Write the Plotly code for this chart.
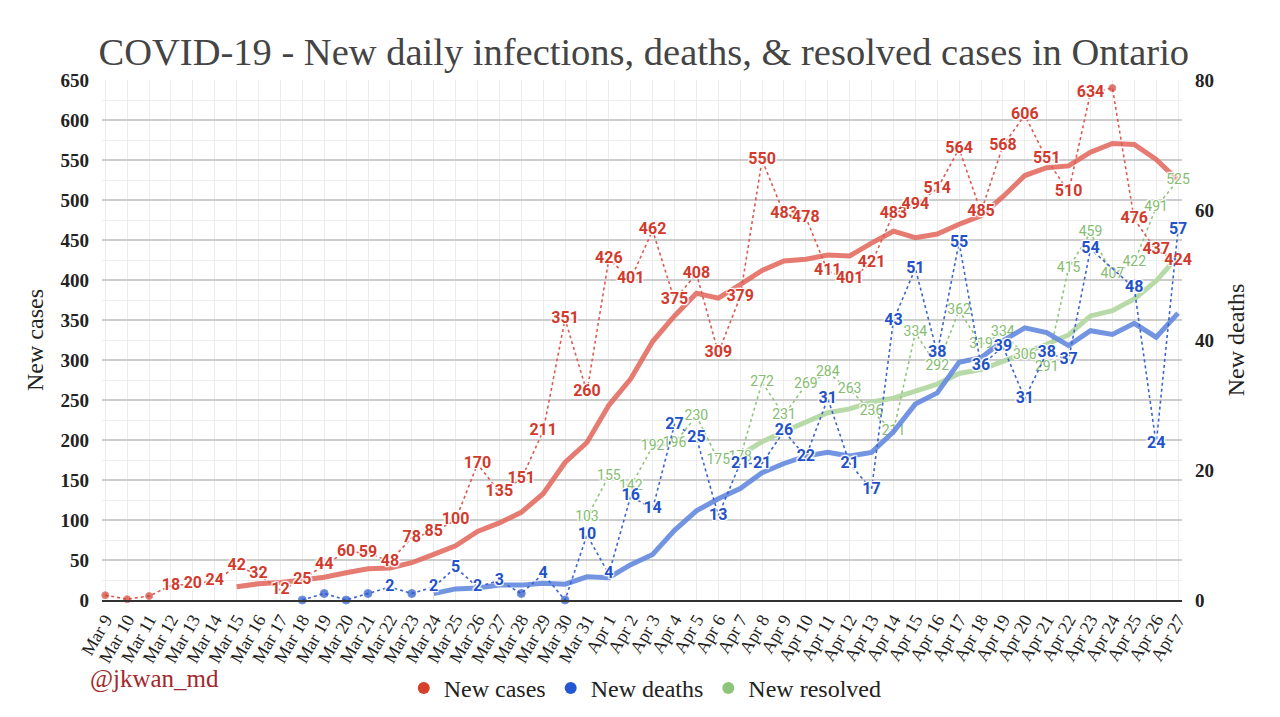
import plotly.graph_objects as go

# ---------------- data ----------------
dates = ["Mar 9", "Mar 10", "Mar 11", "Mar 12", "Mar 13", "Mar 14", "Mar 15", "Mar 16",
         "Mar 17", "Mar 18", "Mar 19", "Mar 20", "Mar 21", "Mar 22", "Mar 23", "Mar 24",
         "Mar 25", "Mar 26", "Mar 27", "Mar 28", "Mar 29", "Mar 30", "Mar 31",
         "Apr 1", "Apr 2", "Apr 3", "Apr 4", "Apr 5", "Apr 6", "Apr 7", "Apr 8", "Apr 9",
         "Apr 10", "Apr 11", "Apr 12", "Apr 13", "Apr 14", "Apr 15", "Apr 16", "Apr 17",
         "Apr 18", "Apr 19", "Apr 20", "Apr 21", "Apr 22", "Apr 23", "Apr 24", "Apr 25",
         "Apr 26", "Apr 27"]

new_cases = [6, 1, 5, 18, 20, 24, 42, 32, 12, 25, 44, 60, 59, 48, 78, 85, 100, 170, 135,
             151, 211, 351, 260, 426, 401, 462, 375, 408, 309, 379, 550, 483, 478, 411,
             401, 421, 483, 494, 514, 564, 485, 568, 606, 551, 510, 634, 640, 476, 437, 424]

# deaths start Mar 18
death_dates = dates[9:]
new_deaths = [0, 1, 0, 1, 2, 1, 2, 5, 2, 3, 1, 4, 0, 10, 4, 16, 14, 27, 25, 13, 21, 21,
              26, 22, 31, 21, 17, 43, 51, 38, 55, 36, 39, 31, 38, 37, 54, 51, 48, 24, 57]

# resolved start Mar 31
resolved_dates = dates[22:]
new_resolved = [103, 155, 142, 192, 196, 230, 175, 178, 272, 231, 269, 284, 263, 236, 211,
                334, 292, 362, 319, 334, 306, 291, 415, 459, 407, 422, 491, 525]

# 7-day trend lines as drawn
cases_avg_dates = dates[6:]
cases_avg = [16.6, 20.3, 21.9, 24.7, 28.4, 34.1, 39.1, 40.0, 46.6, 57.0, 67.7, 85.7, 96.4,
             109.6, 132.9, 171.9, 196.9, 243.4, 276.4, 323.1, 355.1, 383.3, 377.3, 394.3,
             412.0, 423.7, 426.0, 431.1, 430.1, 446.1, 461.0, 453.0, 457.4, 469.7, 480.3,
             504.1, 530.6, 540.3, 542.6, 559.7, 570.6, 569.3, 550.6, 524.6]

deaths_avg_dates = dates[15:]
deaths_avg = [1.0, 1.71, 1.86, 2.29, 2.29, 2.57, 2.43, 3.57, 3.43, 5.43, 7.0, 10.71, 13.71,
              15.57, 17.14, 19.57, 21.0, 22.14, 22.71, 22.14, 22.71, 25.86, 30.14, 31.86,
              36.57, 37.29, 39.86, 41.86, 41.14, 39.14, 41.43, 40.86, 42.57, 40.43, 44.14]

resolved_avg_dates = dates[29:]
resolved_avg = [181.1, 197.9, 210.6, 221.6, 234.1, 238.9, 247.6, 252.3, 261.1, 269.9, 283.1,
                288.1, 298.3, 308.3, 319.7, 331.3, 355.1, 361.6, 376.3, 398.7, 430.0]

# points drawn as a dot instead of a number
cases_unlabeled = ["Mar 9", "Mar 10", "Mar 11", "Apr 24"]
deaths_unlabeled = ["Mar 18", "Mar 19", "Mar 20", "Mar 21", "Mar 23", "Mar 28", "Mar 30"]
deaths_hidden = ["Apr 24"]

left_ticks = list(range(0, 651, 50))
right_ticks = [0, 20, 40, 60, 80]

# ---------------- styles ----------------
RED_T, RED_L, RED_AVG = "#d13a2c", "#dc5a50", "rgba(226,105,95,0.88)"
BLUE_T, BLUE_L, BLUE_AVG = "#2352c8", "#3b64d0", "rgba(100,138,222,0.9)"
GREEN_T, GREEN_L, GREEN_AVG = "#86bd72", "#93c47d", "rgba(180,216,164,0.95)"
SERIF = "Liberation Serif"
HALO = "white 1px 1px 1px, white -1px -1px 1px, white 1px -1px 1px, white -1px 1px 1px, white 0px 0px 3px"

fig = go.Figure()

# trend lines
fig.add_trace(go.Scatter(x=resolved_avg_dates, y=resolved_avg, mode="lines",
                         line=dict(color=GREEN_AVG, width=5), showlegend=False, hoverinfo="skip"))
fig.add_trace(go.Scatter(x=cases_avg_dates, y=cases_avg, mode="lines",
                         line=dict(color=RED_AVG, width=5), showlegend=False, hoverinfo="skip"))

# resolved (dotted + labels)
fig.add_trace(go.Scatter(
    x=resolved_dates, y=new_resolved, mode="lines+text", cliponaxis=False,
    text=[str(v) for v in new_resolved], textposition="middle center",
    textfont=dict(family="Roboto", size=14, color=GREEN_T, shadow=HALO),
    line=dict(color=GREEN_L, width=1.6, dash="dot"), showlegend=False))

# cases (dotted + labels)
fig.add_trace(go.Scatter(
    x=dates, y=new_cases, mode="lines+markers+text", cliponaxis=False,
    text=["" if d in cases_unlabeled else str(v) for d, v in zip(dates, new_cases)],
    textposition="middle center",
    textfont=dict(family="Roboto", size=16, color=RED_T, weight="bold", shadow=HALO),
    marker=dict(color=RED_T, size=[7 if d in cases_unlabeled else 0 for d in dates]),
    line=dict(color=RED_L, width=1.6, dash="dot"), showlegend=False))

# deaths on secondary axis
fig.add_trace(go.Scatter(x=deaths_avg_dates, y=deaths_avg, mode="lines", yaxis="y2",
                         line=dict(color=BLUE_AVG, width=5), showlegend=False, hoverinfo="skip"))
fig.add_trace(go.Scatter(
    x=death_dates, y=new_deaths, mode="lines+markers+text", yaxis="y2", cliponaxis=False,
    text=["" if (d in deaths_unlabeled or d in deaths_hidden) else str(v)
          for d, v in zip(death_dates, new_deaths)],
    textposition="middle center",
    textfont=dict(family="Roboto", size=16, color=BLUE_T, weight="bold", shadow=HALO),
    marker=dict(color=BLUE_T, size=[8 if d in deaths_unlabeled else 0 for d in death_dates]),
    line=dict(color=BLUE_L, width=1.6, dash="dot"), showlegend=False))

# legend entries
for name, col in [("New cases", "#d7402f"), ("New deaths", "#2458d3"), ("New resolved", "#8cc47a")]:
    fig.add_trace(go.Scatter(x=[None], y=[None], mode="markers", name=name,
                             marker=dict(color=col, size=17)))

fig.update_layout(
    width=1280, height=717,
    margin=dict(l=102, r=98, t=80, b=117, autoexpand=False),
    paper_bgcolor="white", plot_bgcolor="white",
    title=dict(text="COVID-19 - New daily infections, deaths, & resolved cases in Ontario",
               x=0.503, xanchor="center", y=0.928, yanchor="middle", yref="container",
               font=dict(family=SERIF, size=38.5, color="#444444")),
    xaxis=dict(type="category", categoryorder="array", categoryarray=dates,
               range=[-0.15, 49.18], tickmode="array", tickvals=dates, ticktext=dates,
               tickangle=-60, tickfont=dict(family=SERIF, size=18, color="#222"),
               automargin=False,
               showgrid=True, gridcolor="#ececec", gridwidth=1,
               showline=True, linecolor="#333", linewidth=2, ticks="", fixedrange=True),
    yaxis=dict(range=[0, 650], tickmode="array", tickvals=left_ticks, automargin=False,
               tickfont=dict(family=SERIF, size=19, color="#222", weight="bold"),
               ticklabelstandoff=12,
               showgrid=True, gridcolor="#cccccc", gridwidth=1.5, zeroline=False,
               minor=dict(dtick=25, showgrid=True, gridcolor="#ededed", gridwidth=1),
               title=dict(text="New cases", font=dict(family=SERIF, size=24, color="#222"), standoff=10),
               ticks=""),
    yaxis2=dict(range=[0, 80], overlaying="y", side="right", tickmode="array",
                tickvals=right_ticks, showgrid=False, zeroline=False, automargin=False,
                ticklabelstandoff=12,
                tickfont=dict(family=SERIF, size=19, color="#222", weight="bold"),
                title=dict(text="New deaths", font=dict(family=SERIF, size=24, color="#222"), standoff=14),
                ticks=""),
    legend=dict(orientation="h", x=0.503, xanchor="center", y=0.04, yanchor="middle",
                yref="container",
                font=dict(family=SERIF, size=24, color="#222"), itemsizing="constant",
                bgcolor="rgba(0,0,0,0)"),
    annotations=[dict(text="@jkwan_md", xref="paper", yref="paper", x=-0.013, y=-0.152,
                      xanchor="left", yanchor="middle", showarrow=False,
                      font=dict(family=SERIF, size=25, color="#a3282b"))],
)

fig.write_html("out.html")
